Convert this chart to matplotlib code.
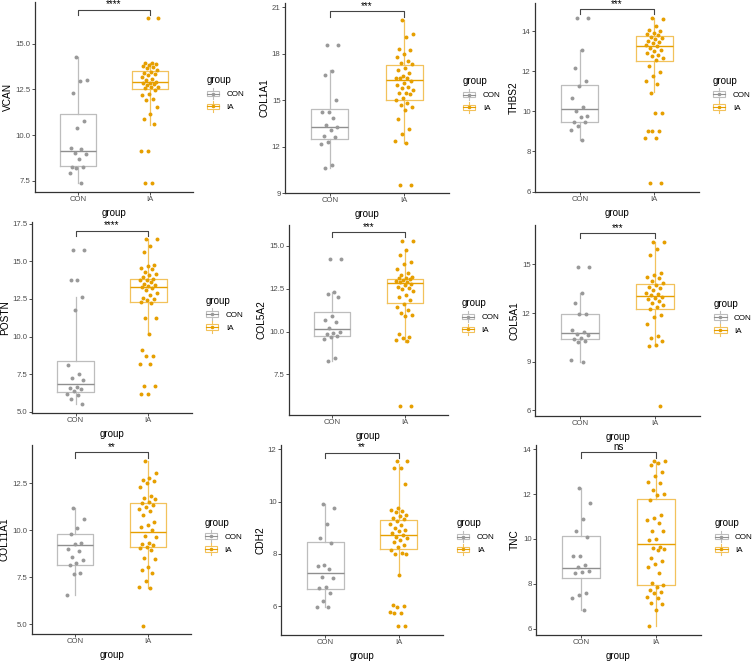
import numpy as np
import matplotlib
matplotlib.use("Agg")
import matplotlib.pyplot as plt
from matplotlib.patches import Patch, Rectangle
from matplotlib.lines import Line2D
from matplotlib.legend_handler import HandlerBase

plt.rcParams['font.family'] = ['Liberation Sans', 'DejaVu Sans']

GROUPS = ["CON", "IA"]
GENES = ["VCAN", "COL1A1", "THBS2", "POSTN", "COL5A2", "COL5A1", "COL11A1", "CDH2", "TNC"]
SIGNIF = ["****", "***", "***", "****", "***", "***", "**", "**", "ns"]

VCAN_CON = [14.29, 13.00, 12.97, 12.28, 10.78, 10.36, 9.27, 9.23, 9.00, 8.96, 8.67, 8.27, 8.27, 8.18, 7.90, 7.39]
VCAN_IA = [16.39, 16.39, 13.96, 13.92, 13.88, 13.83, 13.80, 13.74, 13.65, 13.56, 13.47, 13.42, 13.35, 13.28,
           13.16, 13.07, 13.02, 12.92, 12.87, 12.83, 12.79, 12.74, 12.65, 12.61, 12.55, 12.46, 12.22, 12.19,
           11.95, 11.92, 11.52, 11.15, 10.88, 10.58, 9.14, 9.14, 7.39, 7.39]
COL1A1_CON = [18.53, 18.53, 16.87, 16.63, 15.00, 14.20, 14.20, 13.82, 13.37, 13.26, 13.09, 12.70, 12.60, 12.27,
              12.16, 10.80, 10.61]
COL1A1_IA = [20.18, 19.26, 19.06, 18.30, 18.20, 18.00, 17.77, 17.50, 17.40, 17.30, 17.06, 16.95, 16.74, 16.57,
             16.45, 16.42, 16.40, 16.20, 16.10, 16.00, 15.85, 15.77, 15.62, 15.45, 15.45, 15.40, 15.13, 15.02,
             14.80, 14.70, 14.53, 14.38, 13.77, 13.15, 12.80, 12.33, 12.23, 9.52, 9.52]
THBS2_CON = [14.67, 14.67, 13.08, 12.15, 11.53, 11.25, 10.66, 10.20, 10.03, 9.78, 9.71, 9.46, 9.46, 9.28, 9.08, 8.57]
THBS2_IA = [14.67, 14.58, 14.25, 14.05, 14.00, 13.92, 13.87, 13.80, 13.73, 13.68, 13.60, 13.50, 13.45, 13.42,
            13.33, 13.25, 13.17, 13.08, 13.00, 12.92, 12.83, 12.75, 12.67, 12.58, 12.25, 11.95, 11.78, 11.50,
            11.38, 10.90, 9.94, 9.94, 9.03, 9.03, 9.03, 8.69, 8.69, 6.44, 6.44]
POSTN_CON = [15.77, 15.77, 13.78, 13.78, 12.63, 11.75, 8.10, 7.54, 7.28, 7.10, 6.66, 6.60, 6.50, 6.39, 6.22,
             6.10, 5.88, 5.50]
POSTN_IA = [16.46, 16.46, 16.02, 15.62, 14.78, 14.69, 14.55, 14.50, 14.30, 14.18, 14.07, 13.96, 13.85, 13.78,
            13.72, 13.63, 13.52, 13.45, 13.36, 13.28, 13.19, 13.08, 12.86, 12.75, 12.57, 12.48, 12.41, 12.30,
            12.26, 11.20, 11.20, 10.18, 9.10, 8.72, 8.72, 8.20, 8.20, 6.73, 6.73, 6.17, 6.17]
COL5A2_CON = [14.24, 14.24, 12.30, 12.20, 11.99, 10.90, 10.69, 10.57, 10.21, 9.95, 9.92, 9.83, 9.73, 9.66, 9.54,
              8.48, 8.29]
COL5A2_IA = [15.29, 15.29, 14.77, 14.46, 14.07, 13.93, 13.62, 13.39, 13.29, 13.20, 13.14, 13.10, 13.06, 13.00,
             12.96, 12.90, 12.86, 12.79, 12.70, 12.62, 12.56, 12.48, 12.37, 12.13, 12.03, 11.83, 11.58, 11.45,
             11.26, 11.10, 10.96, 10.90, 9.85, 9.70, 9.60, 9.50, 9.45, 5.66, 5.66]
COL5A1_CON = [14.86, 14.86, 13.27, 12.65, 11.96, 11.96, 10.95, 10.84, 10.74, 10.68, 10.47, 10.39, 10.27, 10.23,
              9.14, 8.99]
COL5A1_IA = [16.40, 16.40, 15.95, 15.58, 14.50, 14.34, 14.24, 14.14, 13.97, 13.83, 13.72, 13.62, 13.52, 13.42,
             13.27, 13.17, 13.11, 13.00, 12.94, 12.86, 12.73, 12.63, 12.50, 12.40, 12.28, 11.91, 11.77, 11.36,
             10.60, 10.47, 10.29, 10.02, 9.98, 6.26]
COL11A1_CON = [11.17, 10.60, 10.11, 9.80, 9.35, 9.30, 9.00, 8.90, 8.60, 8.40, 8.28, 8.16, 7.75, 7.68, 6.56]
COL11A1_IA = [13.70, 13.07, 12.77, 12.70, 12.64, 12.50, 12.32, 11.83, 11.74, 11.65, 11.52, 11.44, 11.35, 11.26,
              11.13, 11.03, 10.82, 10.46, 10.28, 10.20, 10.02, 9.70, 9.66, 9.34, 9.28, 9.22, 9.13, 9.04, 8.95,
              8.55, 8.46, 8.07, 7.89, 7.71, 7.30, 6.97, 6.91, 4.91]
CDH2_CON = [9.90, 9.74, 9.16, 8.59, 8.42, 7.57, 7.53, 7.40, 7.12, 7.06, 6.74, 6.71, 6.51, 6.19, 5.97, 5.97]
CDH2_IA = [11.54, 11.54, 11.30, 11.30, 10.67, 9.74, 9.68, 9.64, 9.60, 9.48, 9.44, 9.39, 9.32, 9.27, 9.16, 9.10,
           9.00, 8.92, 8.87, 8.80, 8.72, 8.66, 8.59, 8.52, 8.46, 8.33, 8.25, 8.14, 8.04, 8.01, 7.99, 7.19, 6.04,
           6.00, 5.95, 5.78, 5.74, 5.72, 5.23, 5.23]
TNC_CON = [12.28, 11.59, 10.87, 10.36, 10.07, 9.24, 9.24, 8.84, 8.77, 8.59, 8.55, 8.50, 7.59, 7.51, 7.36, 6.84]
TNC_IA = [13.48, 13.45, 13.37, 13.30, 12.99, 12.81, 12.52, 12.48, 12.17, 11.99, 11.96, 11.73, 11.07, 10.92,
          10.84, 10.70, 10.36, 10.36, 9.99, 9.96, 9.66, 9.59, 9.54, 9.51, 9.14, 9.04, 8.89, 8.77, 8.47, 8.03,
          7.96, 7.88, 7.73, 7.66, 7.59, 7.44, 7.36, 7.14, 7.11, 6.84, 6.15]

# box summaries: [lower whisker, Q1, median, Q3, upper whisker]
VCAN_BOX = [[7.39, 8.30, 9.10, 11.15, 14.29], [10.55, 12.50, 12.92, 13.49, 13.92]]
COL1A1_BOX = [[10.61, 12.48, 13.28, 14.40, 16.91], [12.23, 14.98, 16.29, 17.24, 20.18]]
THBS2_BOX = [[8.57, 9.46, 10.14, 11.31, 13.08], [10.94, 12.50, 13.27, 13.75, 14.67]]
POSTN_BOX = [[5.50, 6.33, 6.88, 8.36, 12.63], [10.18, 12.30, 13.32, 13.85, 16.46]]
COL5A2_BOX = [[8.29, 9.76, 10.13, 11.16, 12.30], [9.41, 11.64, 12.81, 13.04, 14.75]]
COL5A1_BOX = [[8.99, 10.39, 10.80, 11.93, 13.27], [9.98, 12.28, 13.05, 13.77, 16.40]]
COL11A1_BOX = [[6.56, 8.16, 9.22, 9.79, 11.17], [6.91, 9.13, 9.91, 11.44, 13.70]]
CDH2_BOX = [[5.97, 6.67, 7.27, 8.46, 9.90], [7.22, 8.17, 8.72, 9.29, 11.46]]
TNC_BOX = [[6.84, 8.28, 8.73, 10.13, 12.28], [6.15, 7.96, 9.78, 11.78, 13.44]]

YTICKS = [[7.5, 10.0, 12.5, 15.0], [9, 12, 15, 18, 21], [6, 8, 10, 12, 14],
          [5.0, 7.5, 10.0, 12.5, 15.0, 17.5], [7.5, 10.0, 12.5, 15.0], [6, 9, 12, 15],
          [5.0, 7.5, 10.0, 12.5], [6, 8, 10, 12], [6, 8, 10, 12, 14]]
YLIMS = [(6.88, 17.28), (9.0, 21.26), (5.98, 15.4), (4.93, 17.6), (5.14, 16.2), (5.66, 17.43),
         (4.49, 14.54), (4.89, 12.17), (5.73, 14.18)]

DATA = {
    "VCAN": (VCAN_CON, VCAN_IA, VCAN_BOX), "COL1A1": (COL1A1_CON, COL1A1_IA, COL1A1_BOX),
    "THBS2": (THBS2_CON, THBS2_IA, THBS2_BOX), "POSTN": (POSTN_CON, POSTN_IA, POSTN_BOX),
    "COL5A2": (COL5A2_CON, COL5A2_IA, COL5A2_BOX), "COL5A1": (COL5A1_CON, COL5A1_IA, COL5A1_BOX),
    "COL11A1": (COL11A1_CON, COL11A1_IA, COL11A1_BOX), "CDH2": (CDH2_CON, CDH2_IA, CDH2_BOX),
    "TNC": (TNC_CON, TNC_IA, TNC_BOX),
}

W, H = 753, 661
# axes rectangles in pixels: left, top, right, bottom
RECTS = [(35, 2, 193, 192), (285, 3, 449, 193), (535, 3, 699, 192),
         (32, 222, 192, 413), (289, 225, 448, 415), (535, 225, 700, 416),
         (32, 445, 191, 634), (281, 445, 443, 635), (536, 445, 701, 635)]

PT_COL = ["#999999", "#E69F00"]
BOX_COL = ["#bdbdbd", "#f2c25c"]
MED_COL = ["#8f8f8f", "#E69F00"]


class BoxKeyHandler(HandlerBase):
    def __init__(self, edge, med, pt):
        super().__init__()
        self.edge, self.med, self.pt = edge, med, pt

    def create_artists(self, legend, orig_handle, xdescent, ydescent, width, height, fontsize, trans):
        cx = width / 2 - xdescent
        cy = height / 2 - ydescent
        bw = width * 0.95
        bh = height * 0.62
        whisk = Line2D([cx, cx], [cy - height * 0.62, cy + height * 0.62], color=self.edge, lw=0.8,
                       transform=trans)
        rect = Rectangle((cx - bw / 2, cy - bh / 2), bw, bh, facecolor="white", edgecolor=self.edge,
                         lw=0.8, transform=trans)
        med = Line2D([cx - bw / 2, cx + bw / 2], [cy, cy], color=self.med, lw=0.8, transform=trans)
        dot = Line2D([cx], [cy], marker="o", markersize=2.6, color=self.pt, linestyle="None",
                     markeredgewidth=0, transform=trans)
        return [whisk, rect, med, dot]


fig = plt.figure(figsize=(W / 100, H / 100), dpi=100)


def jitter(n, width=0.12):
    k = np.arange(n)
    return ((k * 0.6180339887 + 0.37) % 1.0 - 0.5) * 2 * width


for i, gene in enumerate(GENES):
    l, t, r, b = RECTS[i]
    ax = fig.add_axes([l / W, 1 - b / H, (r - l) / W, (b - t) / H])
    con, ia, box = DATA[gene]
    for g, vals in enumerate([con, ia]):
        st = box[g]
        stats = [dict(whislo=st[0], q1=st[1], med=st[2], q3=st[3], whishi=st[4], fliers=[])]
        ax.bxp(stats, positions=[g + 1], widths=0.5, showcaps=False, showfliers=False,
               boxprops=dict(color=BOX_COL[g], lw=0.9),
               whiskerprops=dict(color=BOX_COL[g], lw=0.9),
               medianprops=dict(color=MED_COL[g], lw=1.0), manage_ticks=False)
        vals = np.asarray(vals)
        ax.scatter(g + 1 + jitter(len(vals)), vals, s=8, color=PT_COL[g], linewidths=0, zorder=3)
    ax.set_xlim(0.4, 2.6)
    ax.set_ylim(*YLIMS[i])
    ax.set_xticks([1, 2])
    ax.set_xticklabels(GROUPS)
    ax.set_yticks(YTICKS[i])
    if any(isinstance(v, float) and v != int(v) for v in YTICKS[i]):
        ax.set_yticklabels([f"{v:.1f}" for v in YTICKS[i]])
    else:
        ax.set_yticklabels([f"{int(v)}" for v in YTICKS[i]])
    for s in ["top", "right"]:
        ax.spines[s].set_visible(False)
    for s in ["left", "bottom"]:
        ax.spines[s].set_color("#333333")
        ax.spines[s].set_linewidth(0.9)
    ax.tick_params(length=2, width=0.6, color="#333333", labelsize=5.6, labelcolor="#4d4d4d", pad=1.2)
    ax.set_xlabel("group", fontsize=7, labelpad=3)
    ax.set_ylabel(gene, fontsize=7.3, labelpad=2)

    lo, hi = YLIMS[i]
    rng = hi - lo
    ymax = max(max(con), max(ia))
    yb = ymax + 0.044 * rng
    tk = 0.027 * rng
    ax.plot([1, 1, 2, 2], [yb - tk, yb, yb, yb - tk], color="#444444", lw=0.8, clip_on=False, zorder=4)
    ax.annotate(SIGNIF[i], (1.5, yb), xytext=(0, 0.5), textcoords="offset points",
                ha="center", va="bottom", fontsize=7, annotation_clip=False)

    h_con, h_ia = Patch(), Patch()
    ax.legend([h_con, h_ia], GROUPS,
              handler_map={h_con: BoxKeyHandler(BOX_COL[0], MED_COL[0], PT_COL[0]),
                           h_ia: BoxKeyHandler(BOX_COL[1], MED_COL[1], PT_COL[1])},
              title="group", loc="center left", bbox_to_anchor=(1.065, 0.52), frameon=False, fontsize=5.8,
              title_fontsize=7, handlelength=1.6, handleheight=1.4, handletextpad=0.9,
              labelspacing=0.45, alignment="left", borderaxespad=0)

fig.savefig("out.png", dpi=100)
